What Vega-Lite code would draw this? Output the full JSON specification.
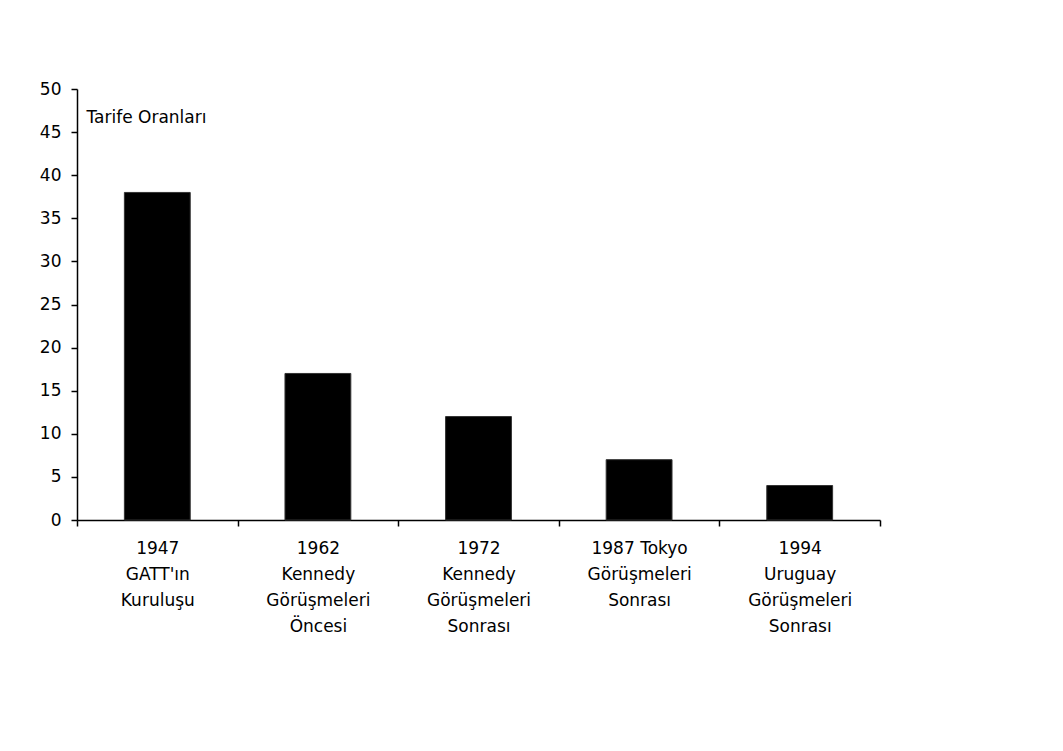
{
  "$schema": "https://vega.github.io/schema/vega-lite/v6.json",
  "width": 803,
  "height": 431,
  "autosize": {"type": "none"},
  "padding": {"left": 77, "top": 89, "right": 183, "bottom": 231},
  "background": "white",
  "config": {
    "view": {"stroke": null},
    "font": "DejaVu Sans",
    "axis": {"grid": false, "domainColor": "black", "tickColor": "black", "labelColor": "black", "titleColor": "black", "domainWidth": 1.5, "tickWidth": 1.5}
  },
  "data": {
    "values": [
      {"donem": "1947|GATT'ın|Kuruluşu", "oran": 38},
      {"donem": "1962|Kennedy|Görüşmeleri|Öncesi", "oran": 17},
      {"donem": "1972|Kennedy|Görüşmeleri|Sonrası", "oran": 12},
      {"donem": "1987 Tokyo|Görüşmeleri|Sonrası", "oran": 7},
      {"donem": "1994|Uruguay|Görüşmeleri|Sonrası", "oran": 4}
    ]
  },
  "mark": {"type": "bar", "color": "black", "stroke": "#333333", "strokeWidth": 1, "width": {"band": 0.41}},
  "encoding": {
    "x": {
      "field": "donem",
      "type": "nominal",
      "sort": null,
      "scale": {"paddingInner": 0, "paddingOuter": 0},
      "axis": {
        "title": null,
        "labelAngle": 0,
        "labelExpr": "isString(datum.value) ? split(datum.value, '|') : ''",
        "labelFontSize": 17,
        "labelLineHeight": 26,
        "tickBand": "extent",
        "tickSize": 6,
        "labelPadding": 14,
        "labelAlign": "center",
        "labelBaseline": "top"
      }
    },
    "y": {
      "field": "oran",
      "type": "quantitative",
      "scale": {"domain": [0, 50], "nice": false},
      "axis": {
        "values": [0, 5, 10, 15, 20, 25, 30, 35, 40, 45, 50],
        "title": "Tarife Oranları",
        "titleAngle": 0,
        "titleAlign": "left",
        "titleBaseline": "alphabetic",
        "titleX": 9,
        "titleY": 33,
        "titleFontSize": 17,
        "titleFontWeight": "normal",
        "labelFontSize": 17,
        "tickSize": 6,
        "labelPadding": 10
      }
    }
  }
}
